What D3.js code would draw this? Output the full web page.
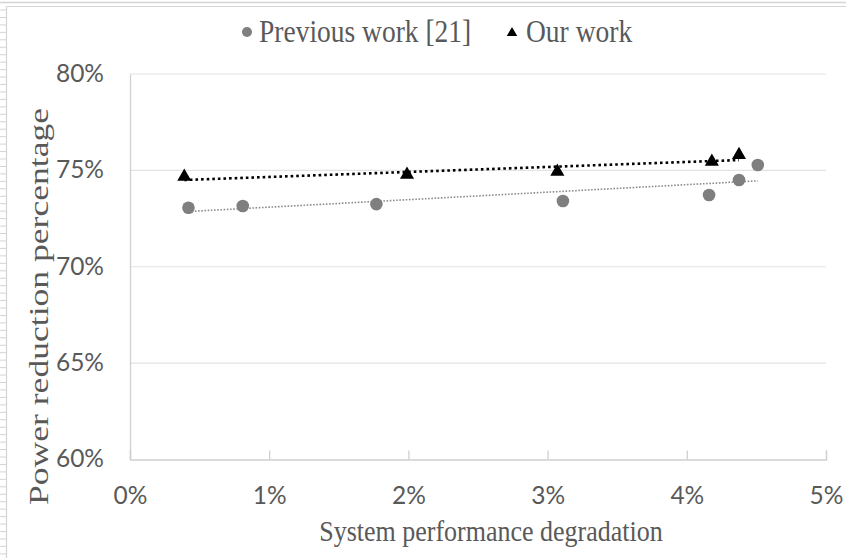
<!DOCTYPE html>
<html>
<head>
<meta charset="utf-8">
<script src="https://cdn.jsdelivr.net/npm/d3@7"></script>
<style>
  html, body { margin: 0; padding: 0; background: #fff; }
  svg { display: block; }
</style>
</head>
<body>
<svg id="chart" width="846" height="558"></svg>
<script>
// Previous work [21]: degradation (%) vs. power reduction (%)
const prevX = [0.42, 0.81, 1.77, 3.11, 4.16, 4.375, 4.51];
const prevY = [73.06, 73.15, 73.25, 73.41, 73.72, 74.5, 75.28];
// Our work
const oursX = [0.39, 1.99, 3.07, 4.18, 4.375];
const oursY = [74.67, 74.78, 74.93, 75.45, 75.8];

const xTicks = [0, 1, 2, 3, 4, 5];
const yTicks = [60, 65, 70, 75, 80];
const seriesNames = ["Previous work [21]", "Our work"];

const svg = d3.select("#chart");
const W = 846, H = 558;

// page frame around the figure
const frame = svg.append("g").attr("stroke", "#d4d4d4").attr("fill", "none");
frame.append("line").attr("x1", 0).attr("x2", W).attr("y1", 2.5).attr("y2", 2.5).attr("stroke-width", 1.5);
frame.append("line").attr("x1", 6.5).attr("x2", W).attr("y1", 6.5).attr("y2", 6.5).attr("stroke-width", 1.2);
frame.append("line").attr("x1", 6.5).attr("x2", 6.5).attr("y1", 6.5).attr("y2", H).attr("stroke-width", 1.2);
frame.selectAll("line.rule").data(d3.range(10, H, 7.45)).join("line")
  .attr("class", "rule")
  .attr("x1", 0).attr("x2", 6).attr("y1", d => d).attr("y2", d => d)
  .attr("stroke-width", 1);

const x = d3.scaleLinear().domain([0, 5]).range([130, 826]);
const y = d3.scaleLinear().domain([60, 80]).range([459.5, 74]);

// horizontal gridlines
svg.append("g")
  .selectAll("line").data(yTicks.filter(t => t > 60)).join("line")
  .attr("x1", x(0)).attr("x2", x(5))
  .attr("y1", d => y(d)).attr("y2", d => y(d))
  .attr("stroke", "#e3e3e3").attr("stroke-width", 1.2);

// axes
const xAxis = d3.axisBottom(x).tickValues(xTicks).tickFormat(d => d + "%").tickSize(-9).tickPadding(44.5);
const gx = svg.append("g").attr("transform", `translate(0,${y(60)})`).call(xAxis);
gx.select(".domain").attr("stroke", "#d0d0d0").attr("stroke-width", 1.3);
gx.selectAll(".tick line").attr("stroke", "#d0d0d0").attr("stroke-width", 1.3);
gx.selectAll("text").attr("font-family", "Lato, 'Open Sans', sans-serif").attr("font-size", 24.5)
  .attr("fill", "#595959").attr("dy", "0");

const yAxis = d3.axisLeft(y).tickValues(yTicks).tickFormat(d => d + "%").tickSize(0).tickPadding(26);
const gy = svg.append("g").attr("transform", `translate(${x(0)},0)`).call(yAxis);
gy.select(".domain").attr("stroke", "#d0d0d0").attr("stroke-width", 1.3);
gy.selectAll("text").attr("font-family", "Lato, 'Open Sans', sans-serif").attr("font-size", 24.5)
  .attr("fill", "#595959").attr("dy", "0.3em");

// least-squares trendline spanning each series' x range
function trend(xs, ys) {
  const mx = d3.mean(xs), my = d3.mean(ys);
  const sxy = d3.sum(xs, (v, i) => (v - mx) * (ys[i] - my));
  const sxx = d3.sum(xs, v => (v - mx) * (v - mx));
  const b = sxy / sxx, a = my - b * mx;
  const x0 = d3.min(xs), x1 = d3.max(xs);
  return [[x0, a + b * x0], [x1, a + b * x1]];
}
const line = d3.line().x(d => x(d[0])).y(d => y(d[1]));

svg.append("path").datum(trend(prevX, prevY))
  .attr("d", line).attr("fill", "none")
  .attr("stroke", "#8c8c8c").attr("stroke-width", 1.6)
  .attr("stroke-dasharray", "1.6 1.6");
svg.append("path").datum(trend(oursX, oursY))
  .attr("d", line).attr("fill", "none")
  .attr("stroke", "#000").attr("stroke-width", 2.6)
  .attr("stroke-dasharray", "2.6 3");

// markers
const prevPts = prevX.map((v, i) => [v, prevY[i]]);
const oursPts = oursX.map((v, i) => [v, oursY[i]]);
svg.append("g").selectAll("circle").data(prevPts).join("circle")
  .attr("cx", d => x(d[0])).attr("cy", d => y(d[1])).attr("r", 6.3)
  .attr("fill", "#7f7f7f");
const tri = d3.symbol().type(d3.symbolTriangle).size(86);
svg.append("g").selectAll("path").data(oursPts).join("path")
  .attr("d", tri)
  .attr("transform", d => `translate(${x(d[0])},${y(d[1])})`)
  .attr("fill", "#000");

// legend
const serif = "'Liberation Serif', 'Times New Roman', serif";
const lg = svg.append("g");
lg.append("circle").attr("cx", 247).attr("cy", 32).attr("r", 5).attr("fill", "#7f7f7f");
lg.append("text").attr("transform", "translate(259,42) scale(1,1.12)").text(seriesNames[0])
  .attr("font-family", serif).attr("font-size", 27.5).attr("fill", "#595959");
lg.append("path").attr("d", d3.symbol().type(d3.symbolTriangle).size(48))
  .attr("transform", "translate(512,33)").attr("fill", "#000");
lg.append("text").attr("transform", "translate(526,42) scale(1,1.12)").text(seriesNames[1])
  .attr("font-family", serif).attr("font-size", 27.5).attr("fill", "#595959");

// axis titles
svg.append("text").attr("transform", "translate(491,541) scale(1,1.15)").attr("text-anchor", "middle")
  .attr("font-family", serif).attr("font-size", 26).attr("fill", "#595959")
  .text("System performance degradation");
svg.append("text").attr("transform", "translate(48,306.5) rotate(-90)").attr("text-anchor", "middle")
  .attr("font-family", serif).attr("font-size", 28).attr("fill", "#595959")
  .attr("textLength", 397).attr("lengthAdjust", "spacingAndGlyphs")
  .text("Power reduction percentage");
</script>
</body>
</html>
